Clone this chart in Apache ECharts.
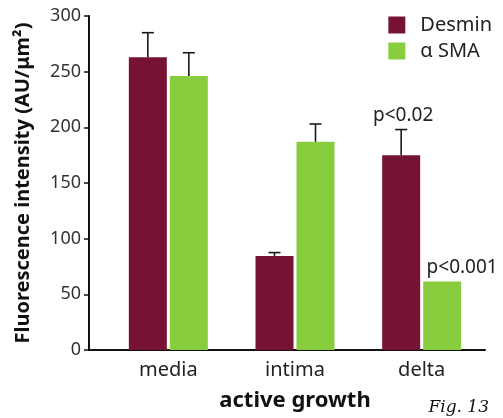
<!DOCTYPE html>
<html>
<head>
<meta charset="utf-8">
<script src="https://cdn.jsdelivr.net/npm/echarts@6/dist/echarts.min.js"></script>
<style>
  html, body { margin: 0; padding: 0; background: #fff; }
  #chart { width: 503px; height: 418px; }
</style>
</head>
<body>
<div id="chart"></div>
<script>
var categories = ['media', 'intima', 'delta']
var desmin = [263, 84.5, 175]
var desminErr = [22, 3, 23]
var sma = [246, 187, 61.5]
var smaErr = [21, 16, 0]
var yTicks = [0, 50, 100, 150, 200, 250, 300]
var pLabels = { desmin: ['', '', 'p<0.02'], sma: ['', '', 'p<0.001'] }

var DESMIN = '#761334'
var SMA = '#88cd3d'
var BAR_W = 38
var GAP = 3
var font = '"Noto Sans", sans-serif'

var chart = echarts.init(document.getElementById('chart'))

function errSeries(name, vals, errs, side) {
  return {
    name: name + ' err',
    type: 'custom',
    z: 5,
    silent: true,
    data: vals.map(function (v, i) { return [i, v, v + errs[i]] }),
    renderItem: function (params, api) {
      if (api.value(2) === api.value(1)) return null
      var lo = api.coord([api.value(0), api.value(1)])
      var hi = api.coord([api.value(0), api.value(2)])
      var x = lo[0] + side * (BAR_W + GAP) / 2
      var cap = 6
      var st = { stroke: '#1a1a1a', lineWidth: 1.6 }
      return {
        type: 'group',
        children: [
          { type: 'line', shape: { x1: x, y1: lo[1], x2: x, y2: hi[1] }, style: st },
          { type: 'line', shape: { x1: x - cap, y1: hi[1], x2: x + cap, y2: hi[1] }, style: st }
        ]
      }
    }
  }
}

var option = {
  animation: false,
  grid: { left: 105, right: 18, top: 16, bottom: 68 },
  legend: {
    orient: 'vertical',
    right: 6,
    top: 10,
    itemWidth: 17,
    itemHeight: 17,
    itemGap: 6,
    icon: 'rect',
    data: ['Desmin', 'α SMA'],
    textStyle: { fontFamily: font, fontSize: 20, color: '#222', padding: [0, 0, 0, 10] }
  },
  xAxis: {
    type: 'category',
    data: categories,
    name: 'active growth',
    nameLocation: 'middle',
    nameGap: 40,
    nameTextStyle: { fontFamily: font, fontSize: 22, fontWeight: 'bold', color: '#111' },
    axisLine: { lineStyle: { color: '#111', width: 2 } },
    axisTick: { show: false },
    axisLabel: { fontFamily: font, fontSize: 20, color: '#222', margin: 10 }
  },
  yAxis: {
    type: 'value',
    min: 0,
    max: 300,
    interval: 50,
    offset: 16,
    name: 'Fluorescence intensity (AU/μm²)',
    nameLocation: 'middle',
    nameGap: 56,
    nameTextStyle: { fontFamily: font, fontSize: 20, fontWeight: 'bold', color: '#111' },
    axisLine: { show: true, lineStyle: { color: '#111', width: 2 } },
    axisTick: { show: true, length: 5, lineStyle: { color: '#111', width: 1.5 } },
    axisLabel: {
      fontFamily: font, fontSize: 18, color: '#333', margin: 8,
      formatter: function (v) { return yTicks.indexOf(v) >= 0 ? String(v) : '' }
    },
    splitLine: { show: false }
  },
  graphic: [
    {
      type: 'line',
      shape: { x1: 88, y1: 350, x2: 106, y2: 350 },
      style: { stroke: '#111', lineWidth: 2 }
    },
    {
      type: 'text',
      right: 14,
      bottom: 2,
      style: { text: 'Fig. 13', font: 'italic 17px "DejaVu Serif", "Liberation Serif", serif', fill: '#111' }
    }
  ],
  series: [
    {
      name: 'Desmin',
      type: 'bar',
      barWidth: BAR_W,
      barGap: (GAP / BAR_W * 100) + '%',
      itemStyle: { color: DESMIN },
      data: desmin.map(function (v, i) {
        return {
          value: v,
          label: {
            show: !!pLabels.desmin[i],
            position: 'top',
            distance: 2,
            offset: [2, -28],
            formatter: pLabels.desmin[i],
            fontFamily: font, fontSize: 19, color: '#222'
          }
        }
      })
    },
    {
      name: 'α SMA',
      type: 'bar',
      barWidth: BAR_W,
      itemStyle: { color: SMA },
      data: sma.map(function (v, i) {
        return {
          value: v,
          label: {
            show: !!pLabels.sma[i],
            position: 'top',
            distance: 4,
            offset: [20, 0],
            formatter: pLabels.sma[i],
            fontFamily: font, fontSize: 19, color: '#222'
          }
        }
      })
    },
    errSeries('Desmin', desmin, desminErr, -1),
    errSeries('α SMA', sma, smaErr, 1)
  ]
}

chart.setOption(option)
</script>
</body>
</html>
